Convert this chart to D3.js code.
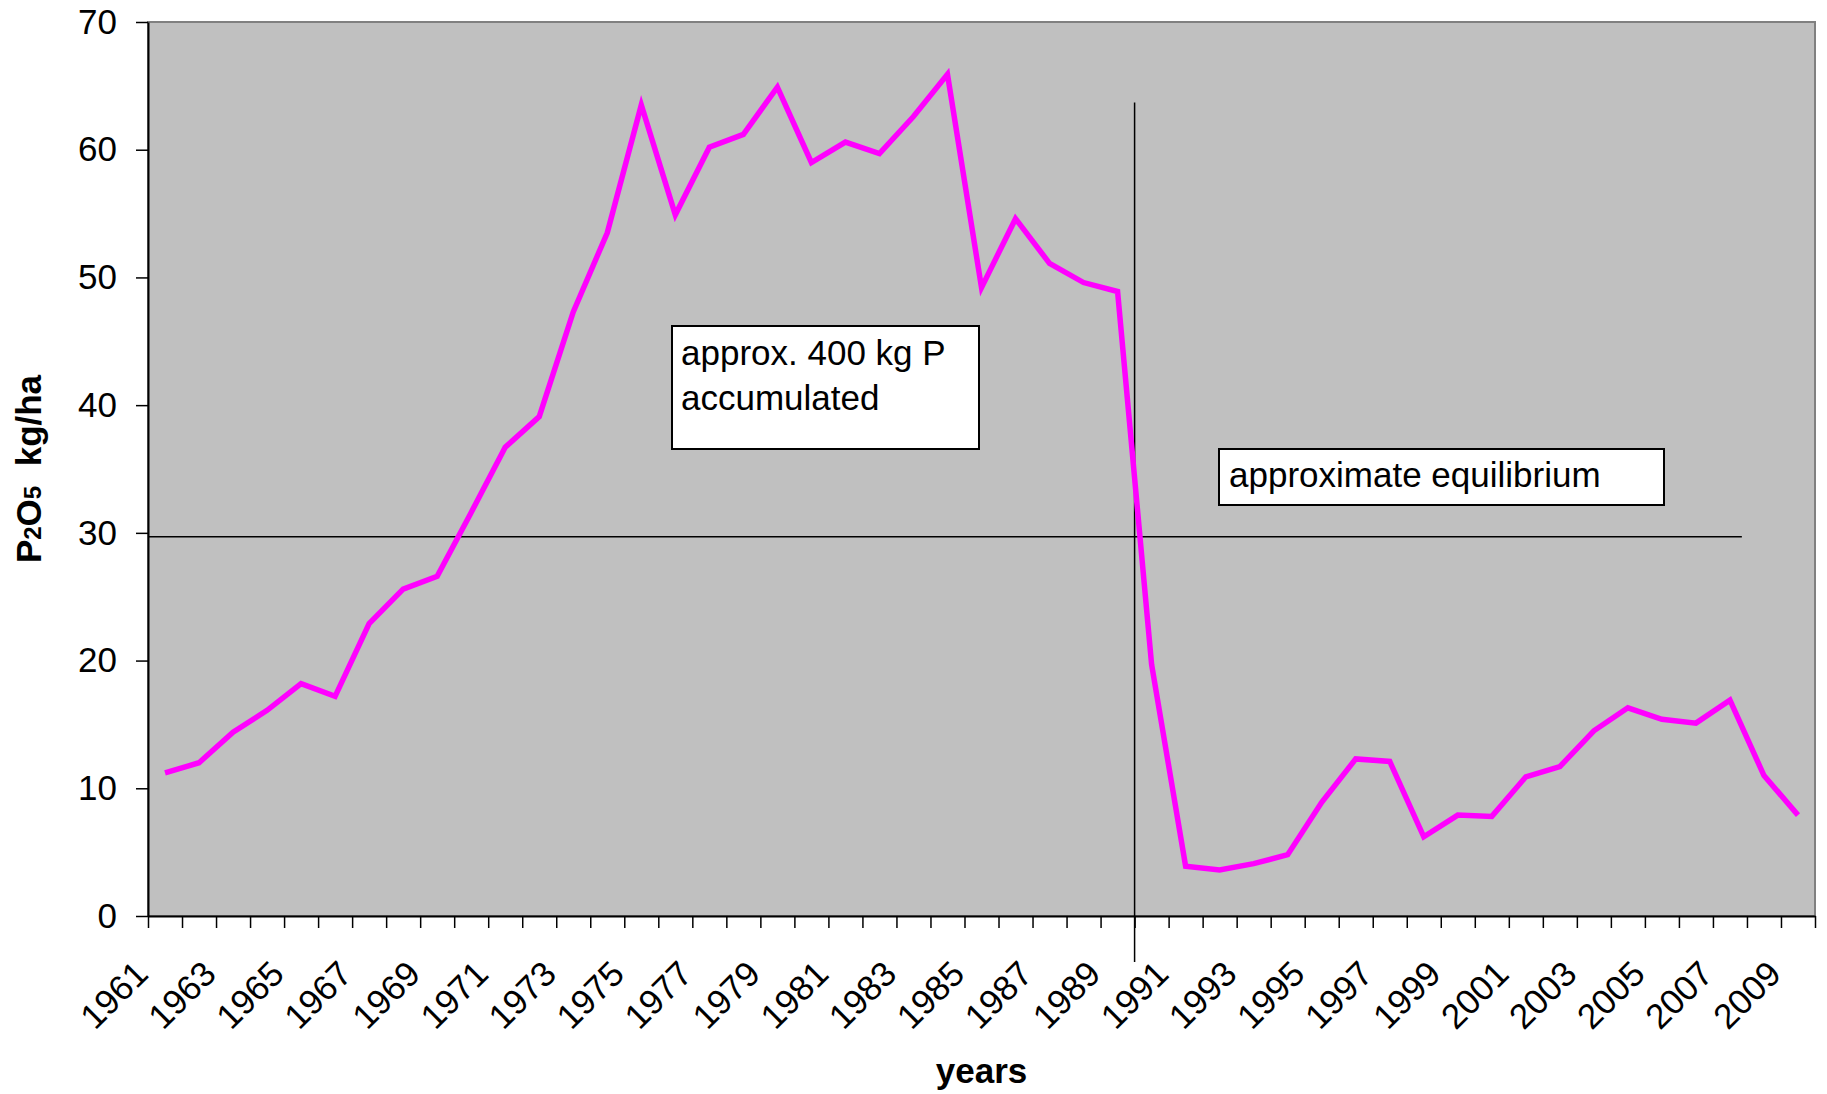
<!DOCTYPE html>
<html>
<head>
<meta charset="utf-8">
<script src="https://cdn.jsdelivr.net/npm/d3@7"></script>
<style>
  body { margin: 0; background: #fff; }
  svg { display: block; font-family: "Liberation Sans", Arial, sans-serif; }
</style>
</head>
<body>
<div id="chart"></div>
<script>
// P2O5 use per hectare
var years = [1961, 1962, 1963, 1964, 1965, 1966, 1967, 1968, 1969, 1970,
             1971, 1972, 1973, 1974, 1975, 1976, 1977, 1978, 1979, 1980,
             1981, 1982, 1983, 1984, 1985, 1986, 1987, 1988, 1989, 1990,
             1991, 1992, 1993, 1994, 1995, 1996, 1997, 1998, 1999, 2000,
             2001, 2002, 2003, 2004, 2005, 2006, 2007, 2008, 2009];

var p2o5 = [11.2, 12.0, 14.4, 16.1, 18.2, 17.2, 22.9, 25.6, 26.6, 31.6,
            36.7, 39.1, 47.3, 53.5, 63.5, 54.9, 60.2, 61.2, 64.9, 59.0,
            60.6, 59.7, 62.6, 65.9, 49.2, 54.6, 51.1, 49.6, 48.9, 19.7,
            3.9, 3.6, 4.1, 4.8, 8.9, 12.3, 12.1, 6.2, 7.9, 7.8,
            10.9, 11.7, 14.5, 16.3, 15.4, 15.1, 16.9, 11.0, 7.9];

var yTicks = [0, 10, 20, 30, 40, 50, 60, 70];
var xTickLabels = ["1961", "1963", "1965", "1967", "1969", "1971", "1973", "1975",
                   "1977", "1979", "1981", "1983", "1985", "1987", "1989", "1991",
                   "1993", "1995", "1997", "1999", "2001", "2003", "2005", "2007", "2009"];

// annotation lines: level of equilibrium and the 1989/1990 break
var refLevel = 29.7;
var refLevelEnd = 2007.35;
var breakYear = 1989.5;
var breakTop = 63.7;
var breakBottom = -3.6;

var width = 1827,
    height = 1094;

var plotLeft = 148, plotRight = 1815, plotTop = 22, plotBottom = 916;

var svg = d3.select("#chart").append("svg")
    .attr("width", width)
    .attr("height", height);

var x = d3.scaleBand()
    .domain(years)
    .range([plotLeft, plotRight])
    .padding(0);

// continuous year scale, for category edges and annotation lines
var xEdge = d3.scaleLinear()
    .domain([years[0] - 0.5, years[years.length - 1] + 0.5])
    .range([plotLeft, plotRight]);

var y = d3.scaleLinear()
    .domain([0, 70])
    .range([plotBottom, plotTop]);

// plot area
svg.append("rect")
    .attr("x", plotLeft)
    .attr("y", plotTop)
    .attr("width", plotRight - plotLeft)
    .attr("height", plotBottom - plotTop)
    .style("fill", "#c0c0c0")
    .style("stroke", "#808080")
    .style("stroke-width", 2);

// y axis
var yAxis = svg.append("g")
    .attr("transform", "translate(" + plotLeft + ",0)")
    .call(d3.axisLeft(y).tickValues(yTicks).tickSize(12).tickSizeOuter(0).tickPadding(19));
yAxis.select(".domain").style("stroke", "#000").style("stroke-width", 2);
yAxis.selectAll(".tick line").style("stroke", "#000").style("stroke-width", 1.5);
yAxis.selectAll(".tick text")
    .style("font-family", "Liberation Sans, Arial, sans-serif")
    .style("font-size", "35px")
    .style("fill", "#000");

// x axis: ticks sit between categories
var edges = years.map(function(d) { return d - 0.5; }).concat([years[years.length - 1] + 0.5]);
var xAxis = svg.append("g")
    .attr("transform", "translate(0," + plotBottom + ")")
    .call(d3.axisBottom(xEdge).tickValues(edges).tickSize(12).tickSizeOuter(0).tickFormat(""));
xAxis.select(".domain").style("stroke", "#000").style("stroke-width", 2);
xAxis.selectAll(".tick line").style("stroke", "#000").style("stroke-width", 1.5);

svg.append("g").selectAll("text")
    .data(xTickLabels)
    .enter()
    .append("text")
    .attr("transform", function(d) {
      var cx = x(+d) + x.bandwidth() / 2 - 15;
      return "translate(" + cx + "," + (plotBottom + 60) + ") rotate(-45)";
    })
    .attr("text-anchor", "end")
    .style("font-size", "35px")
    .style("fill", "#000")
    .text(function(d) { return d; });

// annotation lines
svg.append("line")
    .attr("x1", plotLeft)
    .attr("x2", xEdge(refLevelEnd))
    .attr("y1", y(refLevel))
    .attr("y2", y(refLevel))
    .style("stroke", "#000")
    .style("stroke-width", 1.5);

svg.append("line")
    .attr("x1", xEdge(breakYear))
    .attr("x2", xEdge(breakYear))
    .attr("y1", y(breakTop))
    .attr("y2", y(breakBottom))
    .style("stroke", "#000")
    .style("stroke-width", 1.5);

// the series
var line = d3.line()
    .x(function(d, i) { return x(years[i]) + x.bandwidth() / 2; })
    .y(function(d) { return y(d); });

svg.append("path")
    .datum(p2o5)
    .attr("d", line)
    .style("fill", "none")
    .style("stroke", "#ff00ff")
    .style("stroke-width", 5.5)
    .style("stroke-linejoin", "miter");

// text boxes
var box1 = svg.append("g");
box1.append("rect")
    .attr("x", 672).attr("y", 326)
    .attr("width", 307).attr("height", 123)
    .style("fill", "#fff")
    .style("stroke", "#000")
    .style("stroke-width", 2);
box1.append("text")
    .attr("x", 681).attr("y", 365)
    .style("font-size", "35px")
    .text("approx. 400 kg P");
box1.append("text")
    .attr("x", 681).attr("y", 410)
    .style("font-size", "35px")
    .text("accumulated");

var box2 = svg.append("g");
box2.append("rect")
    .attr("x", 1219).attr("y", 449)
    .attr("width", 445).attr("height", 56)
    .style("fill", "#fff")
    .style("stroke", "#000")
    .style("stroke-width", 2);
box2.append("text")
    .attr("x", 1229).attr("y", 487)
    .style("font-size", "35px")
    .text("approximate equilibrium");

// axis titles
var yTitle = svg.append("text")
    .attr("transform", "translate(41," + ((plotTop + plotBottom) / 2) + ") rotate(-90)")
    .attr("text-anchor", "middle")
    .style("font-size", "35px")
    .style("font-weight", "bold");
yTitle.append("tspan").text("P");
yTitle.append("tspan").style("font-size", "24px").text("2");
yTitle.append("tspan").text("O");
yTitle.append("tspan").style("font-size", "24px").text("5");
yTitle.append("tspan").text("\u00a0 kg/ha");

svg.append("text")
    .attr("x", (plotLeft + plotRight) / 2)
    .attr("y", 1083)
    .attr("text-anchor", "middle")
    .style("font-size", "35px")
    .style("font-weight", "bold")
    .text("years");
</script>
</body>
</html>
